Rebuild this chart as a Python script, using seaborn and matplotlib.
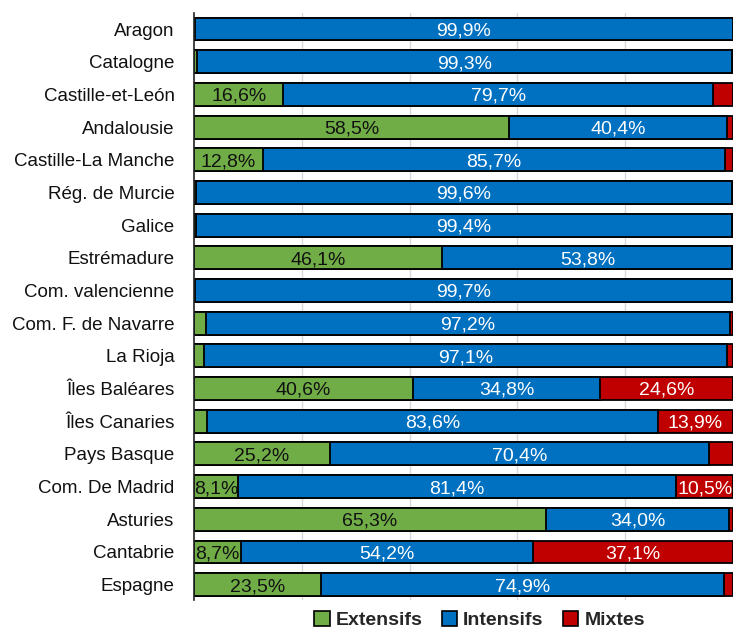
import matplotlib
matplotlib.use("Agg")
import matplotlib.pyplot as plt
from matplotlib.patches import Patch
import seaborn as sns
import pandas as pd

# Data (percent of farms by type, per region)
regions = [
    "Aragon", "Catalogne", "Castille-et-León", "Andalousie", "Castille-La Manche",
    "Rég. de Murcie", "Galice", "Estrémadure", "Com. valencienne",
    "Com. F. de Navarre", "La Rioja", "Îles Baléares", "Îles Canaries",
    "Pays Basque", "Com. De Madrid", "Asturies", "Cantabrie", "Espagne",
]
extensifs = [0.1, 0.5, 16.6, 58.5, 12.8, 0.3, 0.4, 46.1, 0.2,
             2.2, 1.8, 40.6, 2.5, 25.2, 8.1, 65.3, 8.7, 23.5]
intensifs = [99.9, 99.3, 79.7, 40.4, 85.7, 99.6, 99.4, 53.8, 99.7,
             97.2, 97.1, 34.8, 83.6, 70.4, 81.4, 34.0, 54.2, 74.9]
mixtes = [0.0, 0.2, 3.7, 1.1, 1.5, 0.1, 0.2, 0.1, 0.1,
          0.6, 1.1, 24.6, 13.9, 4.4, 10.5, 0.7, 37.1, 1.6]

series = ["Extensifs", "Intensifs", "Mixtes"]
colors = {"Extensifs": "#70AD47", "Intensifs": "#0070C0", "Mixtes": "#C00000"}
text_colors = {"Extensifs": "#111111", "Intensifs": "white", "Mixtes": "white"}

FONT = ["Liberation Sans", "DejaVu Sans"]

sns.set_theme(style="white")
plt.rcParams["font.family"] = FONT

df = pd.DataFrame({"region": regions, "Extensifs": extensifs,
                   "Intensifs": intensifs, "Mixtes": mixtes})
df["cum_ext"] = df["Extensifs"]
df["cum_int"] = df["Extensifs"] + df["Intensifs"]
df["cum_mix"] = df["cum_int"] + df["Mixtes"]

fig = plt.figure(figsize=(7.33, 6.28), dpi=100)
ax = fig.add_axes([0.2647, 0.0446, 0.7353, 0.9347])

# stacked bars drawn as overlapping cumulative totals
for col, name in [("cum_mix", "Mixtes"), ("cum_int", "Intensifs"), ("cum_ext", "Extensifs")]:
    sns.barplot(data=df, y="region", x=col, order=regions, color=colors[name],
                saturation=1, width=0.7, edgecolor="black", linewidth=1.3,
                orient="h", ax=ax, zorder=2)

# value labels
for i, row in df.iterrows():
    start = 0.0
    for name in series:
        v = row[name]
        if v >= 5:
            ax.text(start + v / 2, i + 0.06, f"{v:.1f}%".replace(".", ","),
                    ha="center", va="center", fontsize=14,
                    color=text_colors[name], zorder=4)
        start += v

ax.set_xlim(0, 100)
ax.set_ylim(17.47, -0.49)
ax.set_xticks([20, 40, 60, 80])
ax.set_xticklabels([])
ax.xaxis.grid(True, color="#d9d9d9", linewidth=1, zorder=0)
ax.set_axisbelow(True)
ax.set_xlabel("")
ax.set_ylabel("")
ax.tick_params(axis="y", labelsize=13.5, length=0, pad=14, colors="#111111")
ax.tick_params(axis="x", length=0)
for s in ["top", "right", "bottom"]:
    ax.spines[s].set_visible(False)
ax.spines["left"].set_color("#222222")
ax.spines["left"].set_linewidth(1.2)

handles = [Patch(facecolor=colors[n], edgecolor="black", linewidth=1.2) for n in series]
fig.legend(handles, series, loc="center", bbox_to_anchor=(0.654, 0.013), ncol=3,
           frameon=False, handlelength=0.8, handleheight=0.8, handletextpad=0.3,
           columnspacing=1.0, prop={"family": FONT, "weight": "bold", "size": 14})

fig.savefig("out.png", dpi=100)
